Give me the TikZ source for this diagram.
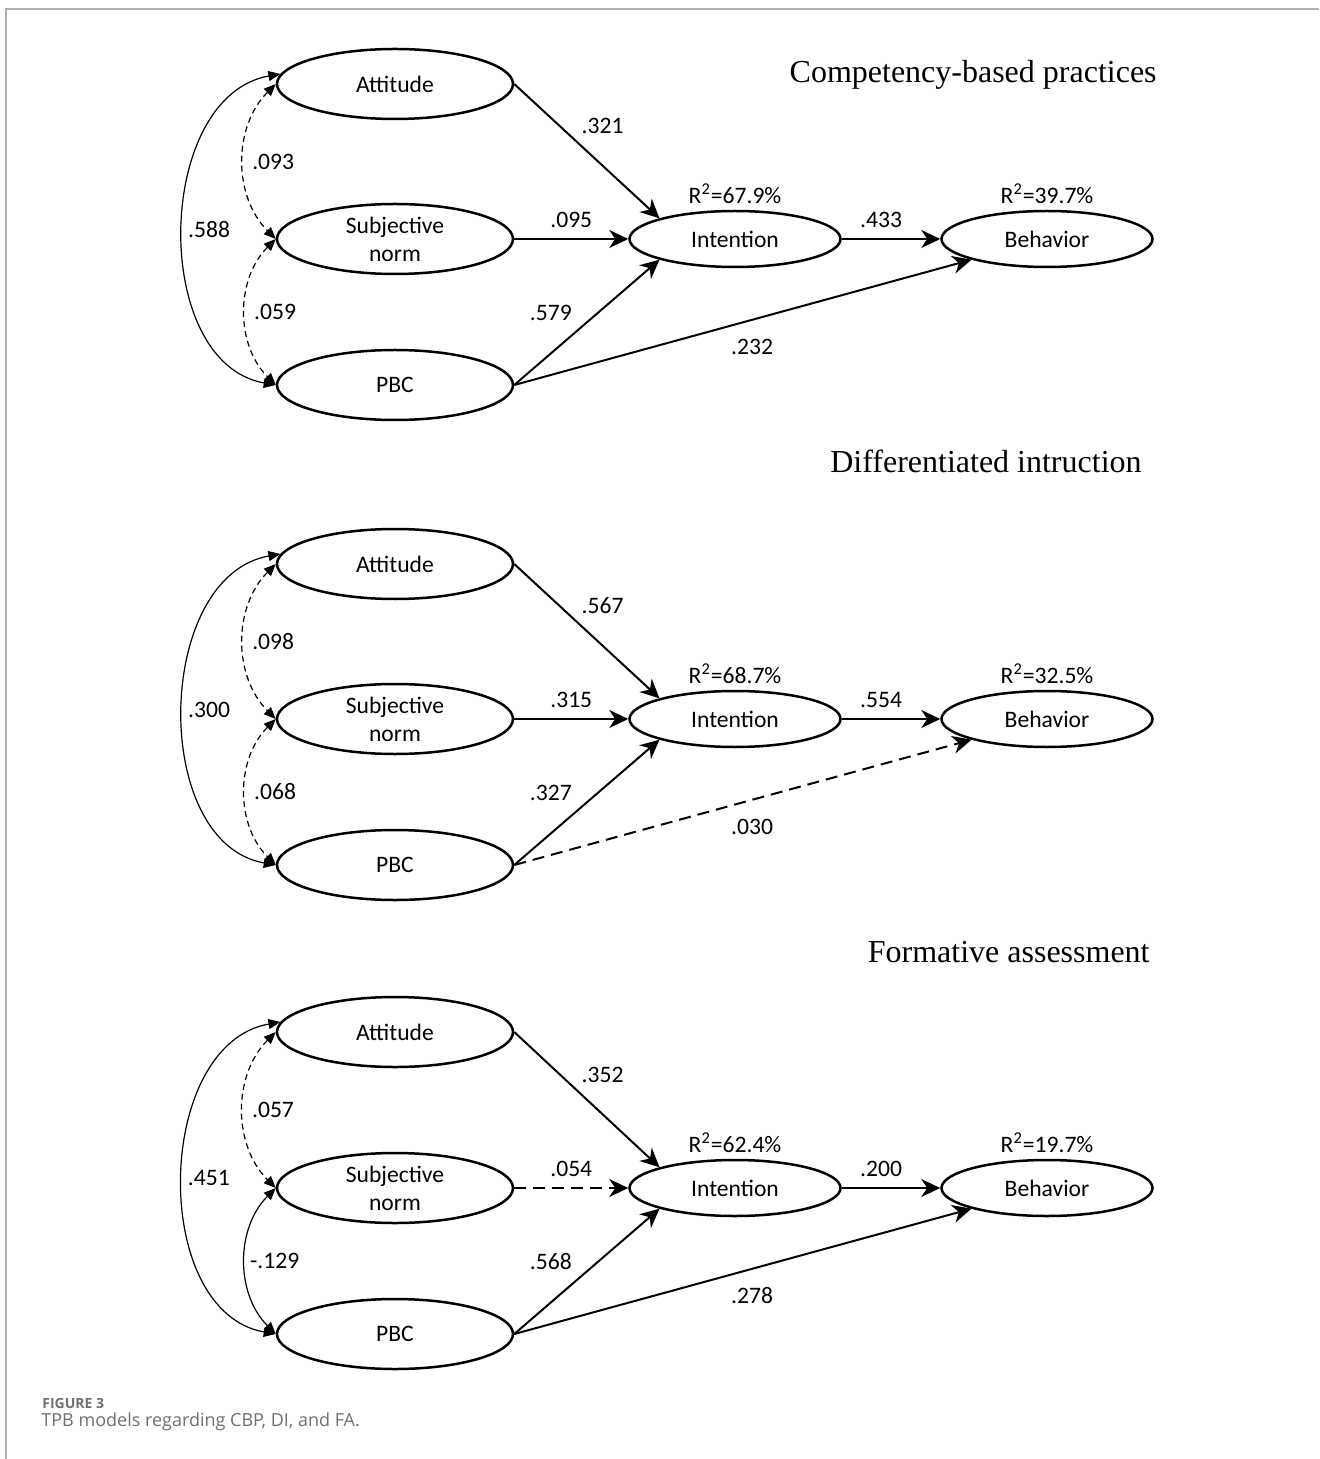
\documentclass[tikz,border=0pt]{standalone}
\usepackage{fontspec}
\setmainfont{Carlito}
\newfontfamily\titlefont{Liberation Serif}
\newfontfamily\capfont{Open Sans}
\usetikzlibrary{
  positioning,
  arrows.meta,
  shapes.geometric
}
\definecolor{framegray}{HTML}{B0B0B0}
\definecolor{capgray}{HTML}{707070}
\tikzset{
  construct/.style={
    ellipse,
    draw,
    line width=1.25pt,
    minimum width=118pt,
    minimum height=35pt,
    inner sep=0pt,
    align=center,
    font=\fontsize{11.8}{14}\selectfont,
  },
  outcome/.style={
    construct,
    minimum width=105.5pt,
    minimum height=28pt,
  },
  regpath/.style={
    ->,
    >={Stealth[length=9.5pt,width=9pt,inset=3pt]},
    line width=1pt,
  },
  regns/.style={
    regpath,
    dash pattern=on 6pt off 3.5pt,
  },
  cov/.style={
    <->,
    >={Triangle[length=6pt,width=5pt]},
    line width=.6pt,
  },
  covns/.style={
    cov,
    dash pattern=on 3pt off 2pt,
  },
  coef/.style={
    font=\fontsize{11.8}{14}\selectfont,
    inner sep=2pt,
  },
  rsq/.style={
    coef,
    inner sep=3pt,
  },
  paneltitle/.style={
    font=\titlefont\fontsize{16}{19}\selectfont,
    anchor=base east,
    inner sep=0pt,
  },
  captext/.style={
    anchor=base west,
    inner sep=0pt,
    text=capgray,
  },
}
\newcommand{\Rsq}[1]{R\textsuperscript{2}=#1\%}

\begin{document}
\begin{tikzpicture}[x=0.5pt, y=-0.5pt, on grid]
  \useasboundingbox (0,0) rectangle (1319,1459);

  % frame and caption
  \draw[framegray, line width=.8pt] (1319,9) -- (6,9) -- (6,1459);
  \node[captext, font=\capfont\bfseries\fontsize{7}{8}\selectfont] (fig) at (42,1408) {FIGURE 3};
  \node[captext, font=\capfont\fontsize{9}{10}\selectfont] (cap) at (41,1426) {TPB models regarding CBP, DI, and FA.};

  % competency-based practices
  \node[paneltitle] (t1) at (1157,83) {Competency-based practices};
  \node[construct] (att1) at (395,84) {Attitude};
  \node[construct, below=77.5pt of att1] (sn1) {Subjective\\norm};
  \node[construct, below=73pt of sn1] (pbc1) {PBC};
  \node[outcome, right=170pt of sn1, label={[rsq]above:\Rsq{67.9}}] (int1) {Intention};
  \node[outcome, right=156pt of int1, label={[rsq]above:\Rsq{39.7}}] (beh1) {Behavior};

  \draw[regpath] (att1.east) -- node[coef, pos=.42, above right=1pt] {.321} (int1.north west);
  \draw[regpath] (sn1.east) -- node[coef, above=3pt] {.095} (int1.west);
  \draw[regpath] (pbc1.east) -- node[coef, pos=.45, above left=2pt] {.579} (int1.south west);
  \draw[regpath] (int1.east) -- node[coef, pos=.4, above=3pt] {.433} (beh1.west);
  \draw[regpath] (pbc1.east) -- node[coef, pos=.52, below=7pt] {.232} (beh1.south west);
  \draw[cov] (att1.175) to[out=190, in=170, looseness=1.05] node[coef, right=0pt] {.588} (pbc1.west);
  \draw[covns] (att1.west) to[out=225, in=135] node[coef, right=2pt] {.093} (sn1.west);
  \draw[covns] (sn1.west) to[out=225, in=135] node[coef, right=2pt] {.059} (pbc1.west);

  % differentiated instruction
  \node[paneltitle] (t2) at (1142,473) {Differentiated intruction};
  \node[construct] (att2) at (395,564) {Attitude};
  \node[construct, below=77.5pt of att2] (sn2) {Subjective\\norm};
  \node[construct, below=73pt of sn2] (pbc2) {PBC};
  \node[outcome, right=170pt of sn2, label={[rsq]above:\Rsq{68.7}}] (int2) {Intention};
  \node[outcome, right=156pt of int2, label={[rsq]above:\Rsq{32.5}}] (beh2) {Behavior};

  \draw[regpath] (att2.east) -- node[coef, pos=.42, above right=1pt] {.567} (int2.north west);
  \draw[regpath] (sn2.east) -- node[coef, above=3pt] {.315} (int2.west);
  \draw[regpath] (pbc2.east) -- node[coef, pos=.45, above left=2pt] {.327} (int2.south west);
  \draw[regpath] (int2.east) -- node[coef, pos=.4, above=3pt] {.554} (beh2.west);
  \draw[regns] (pbc2.east) -- node[coef, pos=.52, below=7pt] {.030} (beh2.south west);
  \draw[cov] (att2.175) to[out=190, in=170, looseness=1.05] node[coef, right=0pt] {.300} (pbc2.west);
  \draw[covns] (att2.west) to[out=225, in=135] node[coef, right=2pt] {.098} (sn2.west);
  \draw[covns] (sn2.west) to[out=225, in=135] node[coef, right=2pt] {.068} (pbc2.west);

  % formative assessment
  \node[paneltitle] (t3) at (1150,962) {Formative assessment};
  \node[construct] (att3) at (395,1032) {Attitude};
  \node[construct, below=78pt of att3] (sn3) {Subjective\\norm};
  \node[construct, below=73pt of sn3] (pbc3) {PBC};
  \node[outcome, right=170pt of sn3, label={[rsq]above:\Rsq{62.4}}] (int3) {Intention};
  \node[outcome, right=156pt of int3, label={[rsq]above:\Rsq{19.7}}] (beh3) {Behavior};

  \draw[regpath] (att3.east) -- node[coef, pos=.42, above right=1pt] {.352} (int3.north west);
  \draw[regns] (sn3.east) -- node[coef, above=3pt] {.054} (int3.west);
  \draw[regpath] (pbc3.east) -- node[coef, pos=.45, above left=2pt] {.568} (int3.south west);
  \draw[regpath] (int3.east) -- node[coef, pos=.4, above=3pt] {.200} (beh3.west);
  \draw[regpath] (pbc3.east) -- node[coef, pos=.52, below=7pt] {.278} (beh3.south west);
  \draw[cov] (att3.175) to[out=190, in=170, looseness=1.05] node[coef, right=0pt] {.451} (pbc3.west);
  \draw[covns] (att3.west) to[out=225, in=135] node[coef, right=2pt] {.057} (sn3.west);
  \draw[cov] (sn3.west) to[out=225, in=135] node[coef, right=0pt] {-.129} (pbc3.west);
\end{tikzpicture}
\end{document}
